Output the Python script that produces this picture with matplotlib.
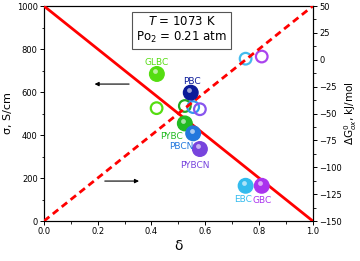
import matplotlib
matplotlib.use("Agg")
import matplotlib.pyplot as plt
from matplotlib.ticker import MultipleLocator
import numpy as np

# filled spheres: conductivity (left axis)
names = ['GLBC', 'PBC', 'PYBC', 'PBCN', 'PYBCN', 'EBC', 'GBC']
delta_s = [0.42, 0.546, 0.524, 0.555, 0.58, 0.75, 0.81]
sigma = [684, 597, 454, 408, 335, 164, 164]
colors_s = ['#55dd11', '#0a1a99', '#22bb22', '#2277dd', '#7744dd', '#33bbee', '#aa33ee']

# open circles: oxidation free energy (right axis)
delta_o = [0.419, 0.524, 0.555, 0.58, 0.75, 0.81]
dG = [-45, -43, -44, -46, 1, 3]
colors_o = ['#55dd11', '#22aa22', '#3399ee', '#8855ee', '#44bbee', '#aa44ee']

# guide lines
line_x = [0.0, 1.0]
line_solid = [1000, 0]
line_dash = [0, 1000]

# label offsets (data units) for the sphere names
lab_dx = [0.0, 0.005, -0.05, -0.045, -0.02, -0.01, 0.0]
lab_dy = [55, 50, -60, -60, -75, -65, -70]

fig = plt.figure(figsize=(3.6, 2.61), dpi=100)
ax = fig.add_axes([0.122, 0.153, 0.747, 0.824])
ax2 = ax.twinx()

ax.plot(line_x, line_solid, color='red', lw=2, zorder=3)
ax.plot(line_x, line_dash, color='red', lw=2, ls=(0, (2.5, 1.6)), zorder=3)

ax2.scatter(delta_o, dG, s=70, facecolors='none', edgecolors=colors_o, linewidths=1.6, zorder=4)

ax.scatter(delta_s, sigma, s=110, c=colors_s, zorder=5)
ax.scatter(np.array(delta_s) - 0.006, np.array(sigma) + 12, s=12, c='white', alpha=0.6,
           linewidths=0, zorder=6)
for n, x, y, c, dx, dy in zip(names, delta_s, sigma, colors_s, lab_dx, lab_dy):
    ax.text(x + dx, y + dy, n, color=c, fontsize=6.5, ha='center', va='center', zorder=7)

ax.set_zorder(ax2.get_zorder() + 1)
ax.patch.set_visible(False)

ax.annotate('', xy=(0.178, 637), xytext=(0.327, 637),
            arrowprops=dict(arrowstyle='-|>', color='black', lw=0.8, mutation_scale=6))
ax.annotate('', xy=(0.364, 186), xytext=(0.216, 186),
            arrowprops=dict(arrowstyle='-|>', color='black', lw=0.8, mutation_scale=6))

ax.text(0.513, 0.888, '$T$ = 1073 K\nPo$_2$ = 0.21 atm', transform=ax.transAxes,
        fontsize=8.5, ha='center', va='center', linespacing=1.2,
        bbox=dict(boxstyle='square,pad=0.35', fc='white', ec='#555555', lw=0.8))

ax.set_xlim(0, 1)
ax.set_ylim(0, 1000)
ax2.set_ylim(-150, 50)
ax.xaxis.set_major_locator(MultipleLocator(0.2))
ax.xaxis.set_minor_locator(MultipleLocator(0.1))
ax.yaxis.set_major_locator(MultipleLocator(200))
ax.yaxis.set_minor_locator(MultipleLocator(100))
ax2.yaxis.set_major_locator(MultipleLocator(25))
ax2.yaxis.set_minor_locator(MultipleLocator(12.5))

for a in (ax, ax2):
    a.tick_params(labelsize=6, length=3, width=0.7, pad=1.5)
    a.tick_params(which='minor', length=1.8, width=0.6)
    for s in a.spines.values():
        s.set_linewidth(0.8)
ax.xaxis.set_major_formatter(plt.FuncFormatter(lambda v, p: f'{v:.1f}'))

ax.set_xlabel('δ', fontsize=10, labelpad=2)
ax.set_ylabel('σ, S/cm', fontsize=8, labelpad=3)
ax2.set_ylabel('ΔG$^0_{ox}$, kJ/mol', fontsize=7.5, labelpad=0)

fig.savefig('out.png', dpi=100)
